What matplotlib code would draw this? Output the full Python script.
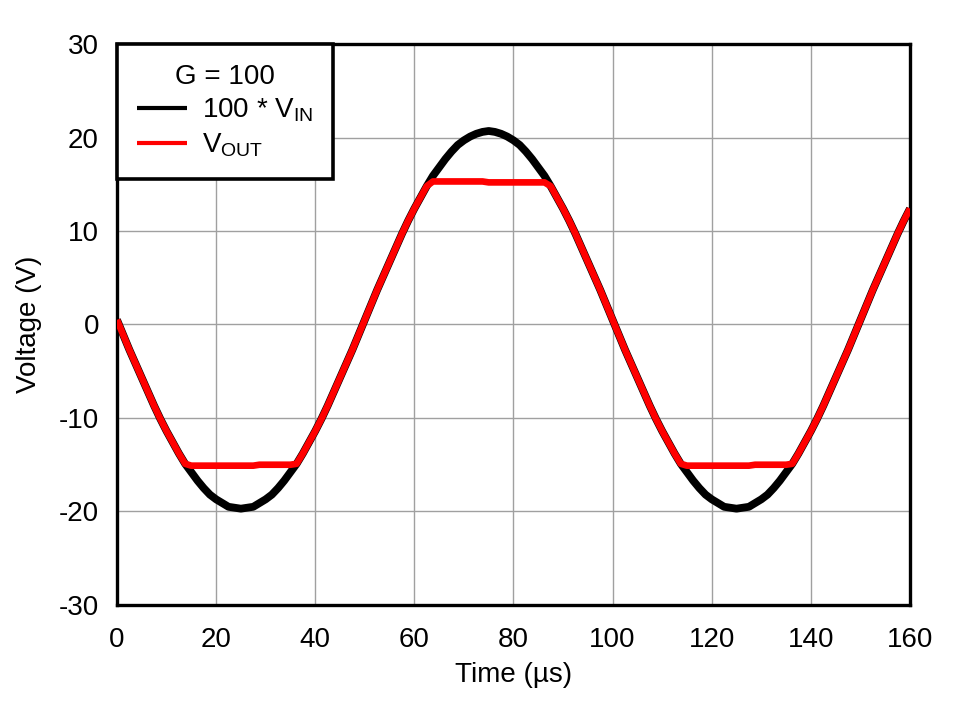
import matplotlib
matplotlib.use("Agg")
import matplotlib.pyplot as plt
import numpy as np

plt.rcParams['font.family'] = ['Liberation Sans', 'DejaVu Sans']
plt.rcParams['mathtext.fontset'] = 'custom'
plt.rcParams['mathtext.rm'] = 'Liberation Sans'
plt.rcParams['mathtext.it'] = 'Liberation Sans'
plt.rcParams['axes.unicode_minus'] = False

# time base (us), trace read every 1.25 us
time_us = np.arange(0, 160.01, 1.25)

# 100 * VIN (V) over one 100 us period (t = 0 .. 98.75 us)
vin_period = [
    0.5, -1.1, -2.7, -4.2, -5.7, -7.2, -8.7, -10.1, -11.4, -12.6,
    -13.8, -14.9, -15.8, -16.7, -17.5, -18.2, -18.7, -19.1, -19.5, -19.6,
    -19.7, -19.6, -19.5, -19.1, -18.7, -18.2, -17.5, -16.7, -15.8, -14.9,
    -13.8, -12.6, -11.4, -10.1, -8.7, -7.2, -5.7, -4.2, -2.7, -1.1,
    0.5, 2.1, 3.7, 5.2, 6.7, 8.2, 9.7, 11.1, 12.4, 13.6,
    14.8, 15.9, 16.8, 17.7, 18.5, 19.2, 19.7, 20.1, 20.4, 20.6,
    20.7, 20.6, 20.4, 20.1, 19.7, 19.2, 18.5, 17.7, 16.8, 15.9,
    14.8, 13.6, 12.4, 11.1, 9.7, 8.2, 6.7, 5.2, 3.7, 2.1,
]

# VOUT (V) over the same period, flat at the output swing limits
vout_period = [
    0.5, -1.1, -2.7, -4.2, -5.7, -7.2, -8.7, -10.1, -11.4, -12.6,
    -13.8, -14.9, -15.1, -15.1, -15.1, -15.1, -15.1, -15.1, -15.1, -15.1,
    -15.1, -15.1, -15.1, -15.0, -15.0, -15.0, -15.0, -15.0, -15.0, -14.9,
    -13.8, -12.6, -11.4, -10.1, -8.7, -7.2, -5.7, -4.2, -2.7, -1.1,
    0.5, 2.1, 3.7, 5.2, 6.7, 8.2, 9.7, 11.1, 12.4, 13.6,
    14.8, 15.3, 15.3, 15.3, 15.3, 15.3, 15.3, 15.3, 15.3, 15.3,
    15.2, 15.2, 15.2, 15.2, 15.2, 15.2, 15.2, 15.2, 15.2, 15.2,
    14.8, 13.6, 12.4, 11.1, 9.7, 8.2, 6.7, 5.2, 3.7, 2.1,
]

# the capture shows 1.6 periods
vin_x100 = vin_period + vin_period[:49]
vout = vout_period + vout_period[:49]

fig = plt.figure(figsize=(9.58, 7.01), dpi=100)
ax = fig.add_axes([0.1221, 0.137, 0.8278, 0.8002])

ax.plot(time_us, vin_x100, color='black', lw=5.6, solid_joinstyle='round',
        solid_capstyle='butt', label=r'100 * V$_{\mathrm{IN}}$', zorder=3)
ax.plot(time_us, vout, color='#ff0000', lw=4.8, solid_joinstyle='round',
        solid_capstyle='butt', label=r'V$_{\mathrm{OUT}}$', zorder=4)

ax.set_xlim(0, 160)
ax.set_ylim(-30, 30)
ax.set_xticks(np.arange(0, 161, 20))
ax.set_yticks(np.arange(-30, 31, 10))
ax.grid(True, color='#a0a0a0', lw=1.0)
ax.set_axisbelow(True)
ax.tick_params(length=0, labelsize=20)
ax.tick_params(axis='x', pad=16)
ax.tick_params(axis='y', pad=13)
for sp in ax.spines.values():
    sp.set_linewidth(2.4)
    sp.set_color('black')

ax.set_xlabel('Time (µs)', fontsize=20, labelpad=6)
ax.set_ylabel('Voltage (V)', fontsize=20, labelpad=12)

leg = ax.legend(title='G = 100', loc='upper left', borderaxespad=0,
                fontsize=20, title_fontsize=20, fancybox=False,
                framealpha=1, edgecolor='black', handlelength=1.8,
                borderpad=0.72, labelspacing=0.25, handletextpad=0.55)
leg.get_frame().set_linewidth(2.6)
for h in leg.legend_handles:
    h.set_linewidth(3.0)

fig.savefig('out.png', dpi=100)
